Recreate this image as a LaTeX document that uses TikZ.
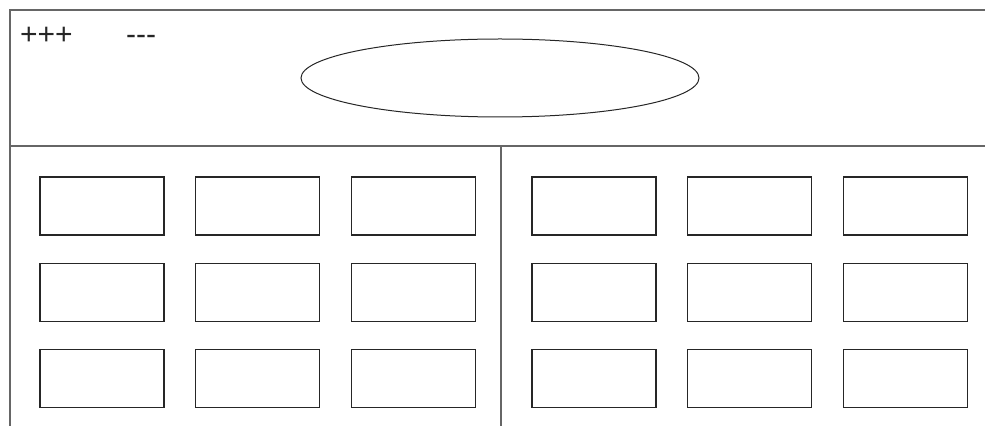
\documentclass[tikz,border=0pt]{standalone}
\usepackage{fontspec}
\setmainfont{Liberation Sans}
\usetikzlibrary{shapes.geometric, positioning}

\begin{document}
\begin{tikzpicture}[x=1pt, y=-1pt, node distance=30pt, auto]
    \tikzstyle{cell} = [rectangle, minimum width=124pt, minimum height=58pt, draw=black!85, line width=1.2pt]
    \tikzstyle{frame} = [draw=black!60, line width=1.2pt]
    \tikzstyle{oval} = [ellipse, minimum width=398pt, minimum height=78pt, draw=black!85, line width=1pt]
    \tikzstyle{sign} = [font=\fontsize{30}{32}\selectfont, text=black!85, inner sep=0pt, anchor=base west]

    \useasboundingbox (0,0) rectangle (985,427);

    % frame
    \coordinate (tl) at (10,10);
    \coordinate (tr) at (985,10);
    \coordinate (ml) at (10,146);
    \coordinate (mr) at (985,146);
    \coordinate (bl) at (10,426);
    \coordinate (mid) at (501,146);
    \coordinate (midb) at (501,426);
    \draw [frame] (tr) -- (tl) -- (bl);
    \draw [frame] (ml) -- (mr);
    \draw [frame] (mid) -- (midb);

    % header
    \node (plus) [sign] at (20,45) {+++};
    \node (minus) [sign] at (126,45) {-{}-{}-};
    \node (head) [oval] at (500,78) {};

    % left group
    \node (a11) [cell] at (102,206) {};
    \node (a12) [cell, right=30.5pt of a11] {};
    \node (a13) [cell, right=30.5pt of a12] {};
    \node (a21) [cell, below=27pt of a11] {};
    \node (a22) [cell, right=30.5pt of a21] {};
    \node (a23) [cell, right=30.5pt of a22] {};
    \node (a31) [cell, below=27pt of a21] {};
    \node (a32) [cell, right=30.5pt of a31] {};
    \node (a33) [cell, right=30.5pt of a32] {};

    % right group
    \node (b11) [cell] at (594,206) {};
    \node (b12) [cell, right=30.5pt of b11] {};
    \node (b13) [cell, right=30.5pt of b12] {};
    \node (b21) [cell, below=27pt of b11] {};
    \node (b22) [cell, right=30.5pt of b21] {};
    \node (b23) [cell, right=30.5pt of b22] {};
    \node (b31) [cell, below=27pt of b21] {};
    \node (b32) [cell, right=30.5pt of b31] {};
    \node (b33) [cell, right=30.5pt of b32] {};
\end{tikzpicture}
\end{document}
